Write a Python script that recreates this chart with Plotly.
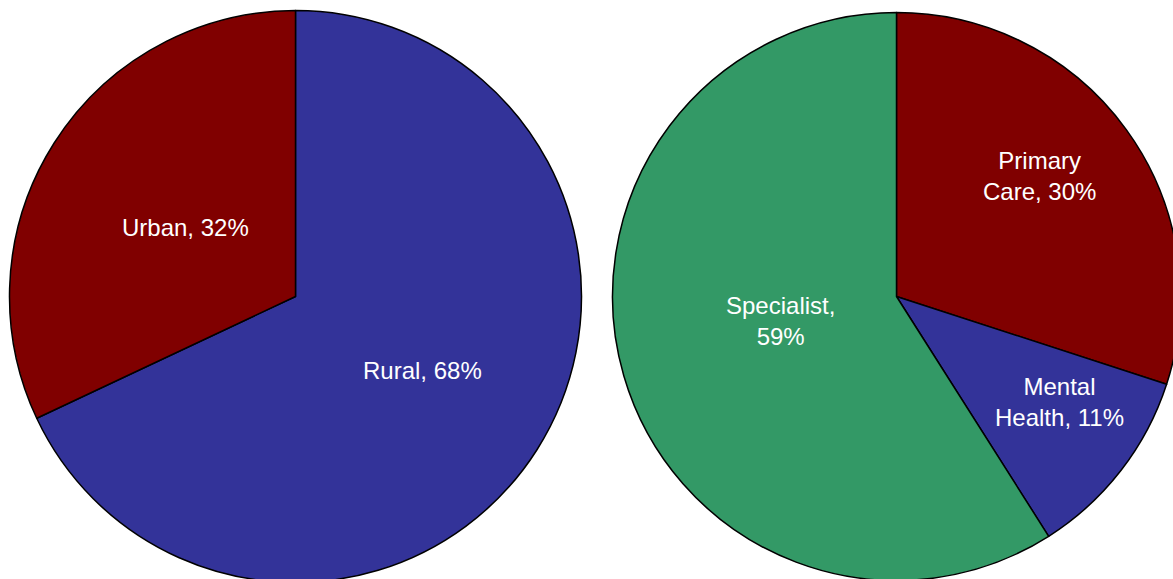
import math
import plotly.graph_objects as go

# ---- data ----
left_labels = ["Rural", "Urban"]
left_values = [68, 32]
right_labels = ["Primary Care", "Mental Health", "Specialist"]
right_values = [30, 11, 59]

# ---- styles ----
left_colors = ["#333399", "#800000"]
right_colors = ["#800000", "#333399", "#339966"]
left_text = ["Rural, {}%", "Urban, {}%"]
right_text = ["Primary<br>Care, {}%", "Mental<br>Health, {}%", "Specialist,<br>{}%"]
# label placement: (fraction of radius, angle offset in degrees from slice mid-angle)
left_label_pos = [(0.512, -2.2), (0.456, -0.2)]
right_label_pos = [(0.66, -4.2), (0.683, -5.0), (0.417, 4.5)]

W, H = 1184, 586
FONT = "Liberation Sans, Arial, sans-serif"

# pie boxes in pixels (left, top, right, bottom)
left_box = (9.5, 10.5, 581.5, 582.5)
right_box = (612.5, 12.5, 1180.5, 580.5)


def domain(box):
    x0, t, x1, b = box
    return dict(x=[x0 / W, x1 / W], y=[1 - b / H, 1 - t / H])


def label_annotations(box, values, texts, pos):
    x0, t, x1, b = box
    cx, cy = (x0 + x1) / 2, (t + b) / 2
    r = min(x1 - x0, b - t) / 2
    total = sum(values)
    anns = []
    cum = 0
    for v, tmpl, (f, off) in zip(values, texts, pos):
        mid = (cum + v / 2) / total * 360 + off
        cum += v
        px = cx + f * r * math.sin(math.radians(mid))
        py = cy - f * r * math.cos(math.radians(mid))
        anns.append(dict(
            x=px / W, y=1 - py / H, xref="paper", yref="paper",
            text=tmpl.format(v), showarrow=False, align="center",
            xanchor="center", yanchor="middle",
            font=dict(family=FONT, size=24, color="white"),
        ))
    return anns


fig = go.Figure()
fig.add_trace(go.Pie(
    labels=left_labels, values=left_values, sort=False, direction="clockwise",
    rotation=0, marker=dict(colors=left_colors, line=dict(color="black", width=1.5)),
    textinfo="none", hoverinfo="skip", domain=domain(left_box), showlegend=False,
))
fig.add_trace(go.Pie(
    labels=right_labels, values=right_values, sort=False, direction="clockwise",
    rotation=0, marker=dict(colors=right_colors, line=dict(color="black", width=1.5)),
    textinfo="none", hoverinfo="skip", domain=domain(right_box), showlegend=False,
))

fig.update_layout(
    width=W, height=H,
    margin=dict(l=0, r=0, t=0, b=0),
    paper_bgcolor="white", plot_bgcolor="white",
    annotations=label_annotations(left_box, left_values, left_text, left_label_pos)
    + label_annotations(right_box, right_values, right_text, right_label_pos),
)

fig.write_html(
    "out.html",
    config={"displayModeBar": False},
    post_script=(
        "document.body.style.margin='0';"
        "document.body.style.overflow='hidden';"
        "document.documentElement.style.overflow='hidden';"
    ),
)
